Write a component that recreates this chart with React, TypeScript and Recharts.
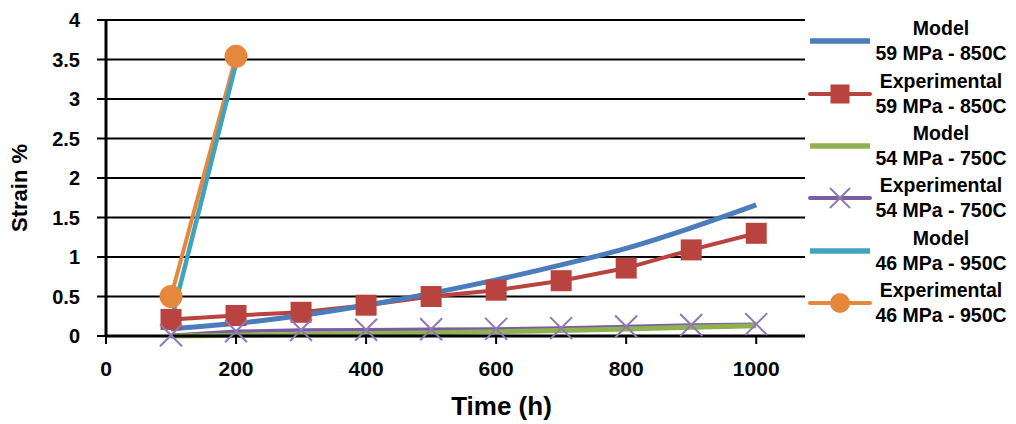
import React from 'react';
import { LineChart, Line, XAxis, YAxis, CartesianGrid, Label } from 'recharts';

// ---- data ----
const times = [100, 200, 300, 400, 500, 600, 700, 800, 900, 1000];
const model59 = [0.09, 0.16, 0.26, 0.39, 0.54, 0.71, 0.9, 1.11, 1.37, 1.66];
const exp59 = [0.21, 0.26, 0.3, 0.39, 0.5, 0.58, 0.7, 0.86, 1.09, 1.3];
const model54 = [0.0, 0.01, 0.02, 0.03, 0.042, 0.055, 0.07, 0.09, 0.11, 0.13];
const exp54 = [0.01, 0.06, 0.075, 0.08, 0.085, 0.09, 0.1, 0.12, 0.14, 0.15];
const model46 = [0.18, 3.45];
const exp46 = [0.5, 3.54];
const xTicks = [0, 200, 400, 600, 800, 1000];
const yTicks = [0, 0.5, 1, 1.5, 2, 2.5, 3, 3.5, 4];

const data = times.map((t, i) => ({
  time: t,
  model59: model59[i],
  exp59: exp59[i],
  model54: model54[i],
  exp54: exp54[i],
  model46: i < model46.length ? model46[i] : null,
  exp46: i < exp46.length ? exp46[i] : null,
}));

type Marker = 'none' | 'square' | 'x' | 'circle';
interface SeriesInfo {
  key: string;
  title: string;
  sub: string;
  color: string;
  width: number;
  marker: Marker;
  markerColor: string;
  curve: 'monotone' | 'linear';
}

const seriesInfo: SeriesInfo[] = [
  { key: 'model59', title: 'Model', sub: '59 MPa - 850C', color: '#4a7dba', width: 5, marker: 'none', markerColor: '#4a7dba', curve: 'monotone' },
  { key: 'exp59', title: 'Experimental', sub: '59 MPa - 850C', color: '#b8433f', width: 4, marker: 'square', markerColor: '#b8433f', curve: 'linear' },
  { key: 'model54', title: 'Model', sub: '54 MPa - 750C', color: '#8fb150', width: 5, marker: 'none', markerColor: '#8fb150', curve: 'linear' },
  { key: 'exp54', title: 'Experimental', sub: '54 MPa - 750C', color: '#7b5e9f', width: 3.5, marker: 'x', markerColor: '#8f78b5', curve: 'linear' },
  { key: 'model46', title: 'Model', sub: '46 MPa - 950C', color: '#3fa3bf', width: 4.5, marker: 'none', markerColor: '#3fa3bf', curve: 'linear' },
  { key: 'exp46', title: 'Experimental', sub: '46 MPa - 950C', color: '#e5883c', width: 4, marker: 'circle', markerColor: '#e5883c', curve: 'linear' },
];

const drawOrder = ['exp59', 'exp46', 'exp54', 'model54', 'model59', 'model46'];

function markerShape(kind: Marker, color: string, cx: number, cy: number, size: number, key?: string) {
  if (kind === 'square') {
    return <rect key={key} x={cx - size / 2} y={cy - size / 2} width={size} height={size} fill={color} />;
  }
  if (kind === 'circle') {
    return <circle key={key} cx={cx} cy={cy} r={size / 2} fill={color} />;
  }
  if (kind === 'x') {
    const h = size / 2;
    return (
      <g key={key}>
        <line x1={cx - h} y1={cy - h} x2={cx + h} y2={cy + h} stroke={color} strokeWidth={2} />
        <line x1={cx - h} y1={cy + h} x2={cx + h} y2={cy - h} stroke={color} strokeWidth={2} />
      </g>
    );
  }
  return <g key={key} />;
}

function dotRenderer(s: SeriesInfo) {
  return (props: any) => {
    const { cx, cy, index } = props;
    const k = `${s.key}-dot-${index}`;
    if (s.marker === 'none' || cx == null || cy == null || Number.isNaN(cy) || props.value == null) {
      return <g key={k} />;
    }
    const size = s.marker === 'circle' ? 23 : s.marker === 'square' ? 21 : 22;
    return markerShape(s.marker, s.markerColor, cx, cy, size, k);
  };
}

const FONT = '"Liberation Sans", Arial, sans-serif';

export default function App() {
  return (
    <div style={{ position: 'absolute', left: 0, top: 0, width: 1016, height: 424, background: '#fff', fontFamily: FONT }}>
      <LineChart width={1016} height={424} data={data} margin={{ top: 20, right: 211, bottom: 0, left: 0 }}>
        <CartesianGrid vertical={false} stroke="#000" strokeWidth={2} />
        <XAxis
          dataKey="time"
          type="number"
          domain={[0, 1075]}
          ticks={xTicks}
          allowDataOverflow
          height={88}
          tickSize={8}
          tickMargin={17}
          axisLine={{ stroke: '#000', strokeWidth: 3 }}
          tickLine={{ stroke: '#000', strokeWidth: 2 }}
          tick={{ fill: '#000', fontSize: 21, fontWeight: 700, fontFamily: FONT }}
        >
          <Label
            content={({ viewBox }: any) => (
              <text
                x={viewBox.x + viewBox.width / 2 + 46}
                y={viewBox.y + 79}
                textAnchor="middle"
                fontSize={26}
                fontWeight={700}
                fill="#000"
                fontFamily={FONT}
              >
                Time (h)
              </text>
            )}
          />
        </XAxis>
        <YAxis
          type="number"
          domain={[0, 4]}
          ticks={yTicks}
          width={106}
          tickSize={9}
          tickMargin={17}
          axisLine={{ stroke: '#000', strokeWidth: 3 }}
          tickLine={{ stroke: '#000', strokeWidth: 2 }}
          tick={{ fill: '#000', fontSize: 20, fontWeight: 700, fontFamily: FONT }}
          tickFormatter={(v: number) => String(v)}
        >
          <Label
            content={({ viewBox }: any) => {
              const x = viewBox.x + 27;
              const y = viewBox.y + viewBox.height / 2 + 10;
              return (
                <text
                  x={x}
                  y={y}
                  transform={`rotate(-90, ${x}, ${y})`}
                  textAnchor="middle"
                  fontSize={22}
                  fontWeight={700}
                  fill="#000"
                  fontFamily={FONT}
                >
                  Strain %
                </text>
              );
            }}
          />
        </YAxis>
        {drawOrder.map((k) => {
          const s = seriesInfo.find((x) => x.key === k)!;
          return (
            <Line
              key={s.key}
              dataKey={s.key}
              name={`${s.title} ${s.sub}`}
              type={s.curve}
              stroke={s.color}
              strokeWidth={s.width}
              dot={dotRenderer(s)}
              activeDot={false}
              connectNulls={false}
              isAnimationActive={false}
            />
          );
        })}
      </LineChart>
      <div style={{ position: 'absolute', left: 808, top: 15, width: 208 }}>
        {seriesInfo.map((s) => (
          <div key={s.key} style={{ display: 'flex', alignItems: 'center', height: 52.4 }}>
            <svg width={66} height={52} style={{ flex: 'none' }}>
              <line x1={2} y1={26} x2={62} y2={26} stroke={s.color} strokeWidth={s.marker === 'none' ? 5.5 : 4} strokeLinecap={s.marker === 'none' ? 'butt' : 'round'} />
              {markerShape(s.marker, s.markerColor, 32, 26, s.marker === 'square' ? 19 : 20)}
            </svg>
            <div
              style={{
                width: 134,
                textAlign: 'center',
                fontFamily: FONT,
                fontWeight: 700,
                fontSize: 19.5,
                lineHeight: '25px',
                color: '#000',
                whiteSpace: 'nowrap',
              }}
            >
              <div>{s.title}</div>
              <div>{s.sub}</div>
            </div>
          </div>
        ))}
      </div>
    </div>
  );
}
